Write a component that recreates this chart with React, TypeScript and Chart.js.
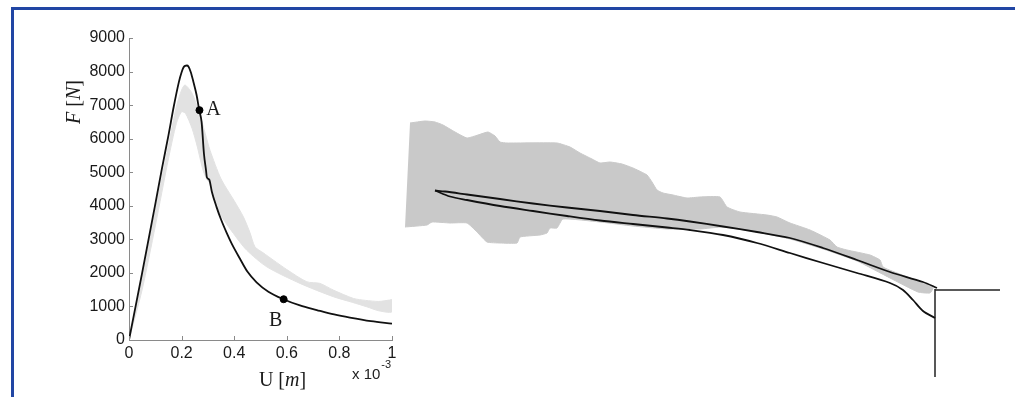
import React, { useEffect, useRef } from "react";
import { Chart, registerables } from "chart.js";

Chart.register(...registerables);

// ---------- Left chart: force vs displacement ----------
const curveU = [0, 0.05, 0.1, 0.125, 0.15, 0.17, 0.19, 0.2, 0.207, 0.213, 0.22, 0.226, 0.235, 0.245, 0.257, 0.267, 0.276, 0.285, 0.293, 0.296, 0.305, 0.315, 0.333, 0.35, 0.371, 0.39, 0.422, 0.45, 0.485, 0.53, 0.587, 0.65, 0.714, 0.78, 0.84, 0.92, 1.0];
const curveF = [0, 2000, 4050, 5100, 6100, 6950, 7700, 7980, 8120, 8170, 8180, 8150, 7980, 7690, 7300, 6850, 6500, 5550, 5050, 4850, 4780, 4420, 3960, 3590, 3200, 2880, 2420, 2040, 1720, 1440, 1215, 1030, 893, 760, 665, 560, 490];

const bandUpperU = [0, 0.05, 0.1, 0.15, 0.18, 0.2, 0.213, 0.24, 0.27, 0.29, 0.308, 0.35, 0.4, 0.435, 0.46, 0.479, 0.51, 0.549, 0.6, 0.676, 0.726, 0.777, 0.853, 0.9, 0.95, 0.99, 1.0];
const bandUpperF = [0, 1850, 3850, 5800, 6950, 7450, 7600, 7350, 6700, 6150, 5655, 4800, 4150, 3670, 3200, 2777, 2600, 2380, 2100, 1736, 1687, 1488, 1240, 1180, 1150, 1190, 1200];
const bandLowerU = [0, 0.05, 0.1, 0.15, 0.18, 0.2, 0.215, 0.24, 0.26, 0.28, 0.295, 0.308, 0.346, 0.397, 0.447, 0.524, 0.65, 0.777, 0.85, 0.904, 0.95, 1.0];
const bandLowerF = [0, 1500, 3400, 5400, 6450, 6800, 6750, 6300, 5750, 5100, 4800, 4663, 3770, 3175, 2680, 2180, 1687, 1290, 1120, 990, 870, 840];

const markerU = [0.268, 0.588];
const markerF = [6850, 1215];
const markerLabels = ["A", "B"];
const markerLabelDx = [14, -8];
const markerLabelDy = [0, 22];

const yTickValues = [0, 1000, 2000, 3000, 4000, 5000, 6000, 7000, 8000, 9000];
const yTickLabels = ["0", "1000", "2000", "3000", "4000", "5000", "6000", "7000", "8000", "9000"];
const xTickValues = [0, 0.2, 0.4, 0.6, 0.8, 1];
const xTickLabels = ["0", "0.2", "0.4", "0.6", "0.8", "1"];

type Part = { t: string; i?: boolean };
const xTitleParts: Part[] = [{ t: "U " }, { t: "[" }, { t: "m", i: true }, { t: "]" }];
const yTitleParts: Part[] = [{ t: "F", i: true }, { t: " [" }, { t: "N", i: true }, { t: "]" }];
const exponentBase = "x 10";
const exponentPower = "-3";

// ---------- Right picture: crack path and damage zone ----------
const blobX = [410, 425, 435, 443, 455, 467, 478, 488, 495, 500, 507, 557, 570, 580, 592, 600, 610, 622, 633, 647, 652, 657, 663, 673, 687, 700, 720, 727, 740, 767, 777, 790, 810, 830, 837, 847, 870, 880, 883, 897, 923, 933, 930, 918, 890, 857, 823, 790, 757, 723, 700, 667, 633, 600, 563, 557, 550, 547, 540, 520, 517, 500, 487, 477, 467, 450, 432, 427, 405];
const blobY = [123, 121, 122, 125, 132, 138, 135, 132, 136, 142, 143, 143, 147, 153, 159, 163, 162, 164, 168, 175, 182, 190, 193, 195, 198, 197, 197, 207, 212, 215, 217, 223, 230, 240, 247, 250, 255, 260, 267, 273, 283, 288, 293, 292, 278, 261, 249, 239, 232, 227, 229, 229, 226, 222, 219, 228, 228, 233, 235, 237, 243, 243, 242, 232, 223, 223, 222, 225, 227];

const crackUpperX = [435, 445, 467, 500, 533, 567, 600, 633, 667, 690, 723, 757, 790, 823, 857, 890, 923, 937];
const crackUpperY = [190.5, 191.5, 194.5, 199, 203.5, 207.5, 211, 215, 218.5, 221.5, 226.5, 232, 238, 248, 260, 272, 282, 288];
const crackLowerX = [435, 450, 467, 500, 533, 567, 600, 633, 667, 690, 723, 757, 790, 823, 857, 890, 903, 913, 923, 935];
const crackLowerY = [190.5, 196.5, 200, 206, 211, 216, 220.5, 224, 227.5, 230, 235, 243, 253, 263, 273, 283, 290, 300, 311, 318];
const edgeVX = [935, 935];
const edgeVY = [289, 377];
const edgeHX = [935, 1000];
const edgeHY = [290, 290];

const SANS = "'Liberation Sans', Arial, sans-serif";
const SERIF = "'Liberation Serif', 'Times New Roman', serif";

const zip = (xs: number[], ys: number[]) => xs.map((x, i) => ({ x, y: ys[i] }));

function drawParts(ctx: CanvasRenderingContext2D, parts: Part[], size: number, cx: number, cy: number) {
  const fonts = parts.map((p) => `${p.i ? "italic " : ""}${size}px ${SERIF}`);
  let total = 0;
  const widths = parts.map((p, k) => {
    ctx.font = fonts[k];
    const w = ctx.measureText(p.t).width;
    total += w;
    return w;
  });
  let x = cx - total / 2;
  ctx.textBaseline = "middle";
  ctx.textAlign = "left";
  parts.forEach((p, k) => {
    ctx.font = fonts[k];
    ctx.fillText(p.t, x, cy);
    x += widths[k];
  });
}

const leftDecor = {
  id: "leftDecor",
  afterDraw(chart: any) {
    const { ctx, scales, chartArea } = chart;
    const xs = scales.x;
    const ys = scales.y;
    ctx.save();
    ctx.strokeStyle = "#8a8a8a";
    ctx.lineWidth = 1;
    ctx.beginPath();
    yTickValues.forEach((v) => {
      const py = Math.round(ys.getPixelForValue(v)) + 0.5;
      ctx.moveTo(chartArea.left, py);
      ctx.lineTo(chartArea.left + 4, py);
    });
    xTickValues.forEach((v) => {
      const px = Math.round(xs.getPixelForValue(v)) + 0.5;
      ctx.moveTo(px, chartArea.bottom);
      ctx.lineTo(px, chartArea.bottom - 4);
    });
    ctx.stroke();

    ctx.fillStyle = "#1a1a1a";
    drawParts(ctx, xTitleParts, 20, (chartArea.left + chartArea.right) / 2 + 22, 381);
    ctx.save();
    ctx.translate(75, 102);
    ctx.rotate(-Math.PI / 2);
    drawParts(ctx, yTitleParts, 20, 0, 0);
    ctx.restore();

    ctx.font = `20px ${SERIF}`;
    ctx.textAlign = "center";
    ctx.textBaseline = "middle";
    markerLabels.forEach((lab, k) => {
      const px = xs.getPixelForValue(markerU[k]) + markerLabelDx[k];
      const py = ys.getPixelForValue(markerF[k]) + markerLabelDy[k];
      ctx.fillText(lab, px, py);
    });

    ctx.font = `15px ${SANS}`;
    ctx.textAlign = "left";
    ctx.textBaseline = "alphabetic";
    ctx.fillStyle = "#222";
    ctx.fillText(exponentBase, 352, 379);
    const w = ctx.measureText(exponentBase).width;
    ctx.font = `11px ${SANS}`;
    ctx.fillText(exponentPower, 352 + w + 1, 368);
    ctx.restore();
  },
};

export default function App() {
  const leftRef = useRef<HTMLCanvasElement>(null);
  const rightRef = useRef<HTMLCanvasElement>(null);

  useEffect(() => {
    const band = [
      ...zip(bandUpperU, bandUpperF),
      ...zip(bandLowerU, bandLowerF).reverse(),
    ];
    const left = new Chart(leftRef.current!, {
      type: "scatter",
      data: {
        datasets: [
          {
            data: band,
            order: 10,
            showLine: true,
            fill: "shape",
            backgroundColor: "#e2e2e2",
            borderColor: "#e2e2e2",
            borderWidth: 1,
            pointRadius: 0,
            tension: 0.25,
          } as any,
          {
            data: zip(curveU, curveF),
            order: 5,
            showLine: true,
            fill: false,
            borderColor: "#111",
            borderWidth: 1.8,
            pointRadius: 0,
            cubicInterpolationMode: "monotone",
          } as any,
          {
            data: zip(markerU, markerF),
            order: 1,
            showLine: false,
            pointRadius: 3.5,
            backgroundColor: "#000",
            borderColor: "#000",
          } as any,
        ],
      },
      options: {
        animation: false,
        responsive: false,
        layout: { padding: { left: 0, right: 28, top: 38, bottom: 0 } },
        plugins: { legend: { display: false }, tooltip: { enabled: false } },
        events: [],
        scales: {
          x: {
            type: "linear",
            min: 0,
            max: 1,
            afterFit: (s: any) => {
              s.height = 57;
            },
            afterBuildTicks: (s: any) => {
              s.ticks = xTickValues.map((v) => ({ value: v }));
            },
            ticks: {
              callback: (_v: any, i: number) => xTickLabels[i],
              color: "#1a1a1a",
              font: { family: SANS, size: 16 },
              padding: 4,
              maxRotation: 0,
              autoSkip: false,
            },
            grid: { display: false, drawTicks: false },
            border: { display: true, color: "#8a8a8a", width: 1 },
          },
          y: {
            type: "linear",
            min: 0,
            max: 9000,
            afterFit: (s: any) => {
              s.width = 129;
            },
            afterBuildTicks: (s: any) => {
              s.ticks = yTickValues.map((v) => ({ value: v }));
            },
            ticks: {
              callback: (_v: any, i: number) => yTickLabels[i],
              color: "#1a1a1a",
              font: { family: SANS, size: 16 },
              padding: 4,
              autoSkip: false,
            },
            grid: { display: false, drawTicks: false },
            border: { display: true, color: "#8a8a8a", width: 1 },
          },
        },
      } as any,
      plugins: [leftDecor],
    });

    const lineDs = (xs: number[], ys: number[], color: string, width: number, tension: number) =>
      ({
        data: zip(xs, ys),
        order: 1,
        showLine: true,
        fill: false,
        borderColor: color,
        borderWidth: width,
        pointRadius: 0,
        tension,
      } as any);

    const right = new Chart(rightRef.current!, {
      type: "scatter",
      data: {
        datasets: [
          {
            data: zip(blobX, blobY),
            order: 10,
            showLine: true,
            fill: "shape",
            backgroundColor: "#c9c9c9",
            borderColor: "#c9c9c9",
            borderWidth: 1,
            pointRadius: 0,
            tension: 0.15,
          } as any,
          lineDs(crackUpperX, crackUpperY, "#111", 1.8, 0.3),
          lineDs(crackLowerX, crackLowerY, "#111", 1.8, 0.3),
          lineDs(edgeVX, edgeVY, "#222", 1.5, 0),
          lineDs(edgeHX, edgeHY, "#222", 1.5, 0),
        ],
      },
      options: {
        animation: false,
        responsive: false,
        events: [],
        layout: { padding: 0 },
        plugins: { legend: { display: false }, tooltip: { enabled: false } },
        scales: {
          x: { type: "linear", display: false, min: 400, max: 1015 },
          y: { type: "linear", display: false, min: 0, max: 397, reverse: true },
        },
      } as any,
    });

    return () => {
      left.destroy();
      right.destroy();
    };
  }, []);

  return (
    <div
      style={{
        position: "fixed",
        left: 0,
        top: 0,
        width: 1015,
        height: 397,
        overflow: "hidden",
        background: "#fff",
      }}
    >
      <div
        style={{
          position: "absolute",
          left: 11,
          top: 7,
          width: 1100,
          height: 500,
          borderTop: "3px solid #2146a4",
          borderLeft: "3px solid #2146a4",
        }}
      />
      <canvas
        ref={leftRef}
        width={420}
        height={397}
        style={{ position: "absolute", left: 0, top: 0, width: 420, height: 397 }}
      />
      <canvas
        ref={rightRef}
        width={615}
        height={397}
        style={{ position: "absolute", left: 400, top: 0, width: 615, height: 397 }}
      />
    </div>
  );
}
